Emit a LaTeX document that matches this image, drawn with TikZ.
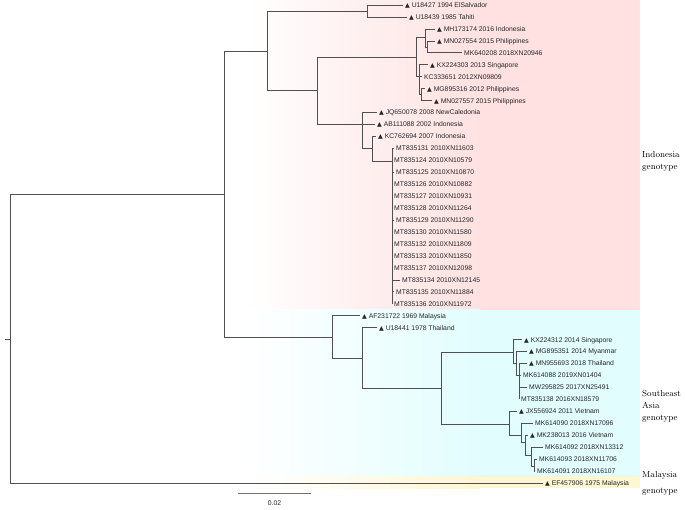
\documentclass[tikz,border=0pt]{standalone}
\usepackage{fontspec}
\newfontfamily\leafsans{Liberation Sans}
\newfontfamily\symfont{DejaVu Sans}
\definecolor{pinkbg}{RGB}{255,225,225}
\definecolor{cyanbg}{RGB}{226,253,254}
\definecolor{yellowbg}{RGB}{255,246,212}
\definecolor{branch}{RGB}{80,80,80}
\newcommand\tri{{\symfont\fontsize{6.2}{7}\selectfont ▲}\hspace{1.8pt}}
\begin{document}
\begin{tikzpicture}[x=1pt,y=-1pt,
  br/.style={draw=branch,line width=0.6pt},
  leaf/.style={anchor=west,inner xsep=2pt,inner ysep=0pt,text height=4.9pt,text depth=0pt,
    font=\leafsans\fontsize{6.8}{8}\selectfont,text=black!85},
  geno/.style={anchor=base west,align=left,inner sep=0pt,font=\fontsize{8.8}{12}\selectfont}]
\useasboundingbox (0,0) rectangle (685,510);
% backgrounds
\shade[left color=white,right color=pinkbg] (245,0) rectangle (480,310);
\fill[pinkbg] (479.5,0) rectangle (640,310);
\shade[left color=white,right color=cyanbg] (245,310) rectangle (480,476);
\fill[cyanbg] (479.5,310) rectangle (640,476);
\shade[left color=white,right color=yellowbg] (245,476) rectangle (480,488);
\fill[yellowbg] (479.5,476) rectangle (640,488);
% internal nodes
\coordinate (rt) at (5,339);
\coordinate (root) at (10,339);
\coordinate (nTop) at (224,194);
\coordinate (n1) at (267,51);
\coordinate (n2) at (367,11);
\coordinate (n3) at (317,90);
\coordinate (n4) at (416,57);
\coordinate (nA) at (425,37);
\coordinate (nB) at (427,47);
\coordinate (nC) at (419,76.7);
\coordinate (nD) at (421,94.6);
\coordinate (nE) at (362,124.5);
\coordinate (nF) at (372,148.4);
\coordinate (nG) at (392,161);
\coordinate (nH) at (332,337);
\coordinate (nI) at (362,358);
\coordinate (nJ) at (441,388);
\coordinate (U1) at (513,352);
\coordinate (U2) at (516,363);
\coordinate (U3) at (519,375.45);
\coordinate (L1) at (509,424);
\coordinate (L2) at (521,435.2);
\coordinate (L3) at (525,442);
\coordinate (L4) at (531,455);
\coordinate (L5) at (534,466);
\draw[br] (rt) -- (root);
\foreach \a/\b in {root/nTop,nTop/n1,nTop/nH,n1/n2,n1/n3,n3/n4,n3/nE,n4/nA,n4/nC,nA/nB,nC/nD,nE/nF,nF/nG,nH/nI,nI/nJ,nJ/U1,nJ/L1,U1/U2,U2/U3,L1/L2,L2/L3,L3/L4,L4/L5}
  {\draw[br] (\a) |- (\b);}
% leaves
\foreach \i/\p/\xe/\t in {
0/n2/403/\tri U18427 1994 ElSalvador,
1/n2/407/\tri U18439 1985 Tahiti,
2/nA/435/\tri MH173174 2016 Indonesia,
3/nB/435/\tri MN027554 2015 Philippines,
4/nB/462/MK640208 2018XN20946,
5/nC/428/\tri KX224303 2013 Singapore,
6/nC/422/KC333651 2012XN09809,
7/nD/425/\tri MG895316 2012 Philippines,
8/nD/432/\tri MN027557 2015 Philippines,
9/nE/377/\tri JQ650078 2008 NewCaledonia,
10/nE/375/\tri AB111088 2002 Indonesia,
11/nF/376/\tri KC762694 2007 Indonesia,
12/nG/394/MT835131 2010XN11603,
13/nG/392/MT835124 2010XN10579,
14/nG/394/MT835125 2010XN10870,
15/nG/392/MT835126 2010XN10882,
16/nG/392/MT835127 2010XN10931,
17/nG/392/MT835128 2010XN11264,
18/nG/394/MT835129 2010XN11290,
19/nG/392/MT835130 2010XN11580,
20/nG/392/MT835132 2010XN11809,
21/nG/392/MT835133 2010XN11850,
22/nG/392/MT835137 2010XN12098,
23/nG/400/MT835134 2010XN12145,
24/nG/394/MT835135 2010XN11884,
25/nG/392/MT835136 2010XN11972,
26/nH/360/\tri AF231722 1969 Malaysia,
27/nI/377/\tri U18441 1978 Thailand,
28/U1/522/\tri KX224312 2014 Singapore,
29/U2/527/\tri MG895351 2014 Myanmar,
30/U3/527/\tri MN955693 2018 Thailand,
31/U3/521/MK614088 2019XN01404,
32/U3/527/MW295825 2017XN25491,
33/U3/519/MT835138 2016XN18579,
34/L1/517/\tri JX556924 2011 Vietnam,
35/L2/533/MK614090 2018XN17096,
36/L3/528/\tri MK238013 2016 Vietnam,
37/L4/543/MK614092 2018XN13312,
38/L5/537/MK614093 2018XN11706,
39/L5/535/MK614091 2018XN16107,
40/root/543/\tri EF457906 1975 Malaysia}
{\node[leaf] (l\i) at (\xe,{5+11.95*\i}) {\t};
 \draw[br] (\p) |- (l\i.west);}
% genotype labels (anchor base = baseline of last line)
\node[geno] (g1) at (642,170) {Indonesia\\genotype};
\node[geno] (g2) at (642,420) {Southeast\\Asia\\genotype};
\node[geno] (g3) at (642,493) {Malaysia\\[3.5pt]genotype};
% scale bar
\coordinate (s1) at (238,493);
\coordinate (s2) at (311,493);
\draw[black!55,line width=0.8pt] (s1) -- (s2);
\node[font=\leafsans\fontsize{6.8}{8}\selectfont,text=black!85] (sl) at (274.5,503) {0.02};
\end{tikzpicture}
\end{document}
